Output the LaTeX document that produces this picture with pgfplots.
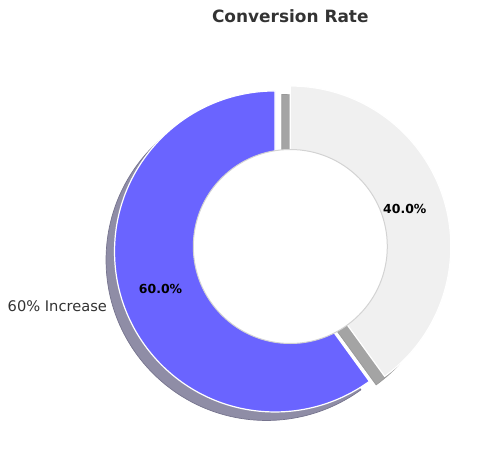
\documentclass[border=0pt]{standalone}
\usepackage{pgfplots}
\pgfplotsset{compat=1.18}
\usepackage{pgfplotstable}
\usepackage{fontspec}
\setmainfont{DejaVu Sans}

\definecolor{sliceA}{HTML}{6A64FF}
\definecolor{sliceB}{HTML}{F0F0F0}
\definecolor{shadowA}{HTML}{8F8DA6}
\definecolor{shadowAedge}{HTML}{76748E}
\definecolor{shadowB}{HTML}{A4A4A4}
\definecolor{shadowBedge}{HTML}{999999}
\definecolor{holeedge}{HTML}{D3D3D3}
\definecolor{textgray}{HTML}{333333}

\pgfplotstableread{
share
60
40
}\slices

\begin{document}
\begin{tikzpicture}
\pgfplotstablegetelem{0}{share}\of\slices \let\shareA\pgfplotsretval
\pgfplotstablegetelem{1}{share}\of\slices \let\shareB\pgfplotsretval
% pie geometry (1 axis unit = 1bp)
\def\cx{290.3}\def\cy{209.5}\def\R{160.5}\def\hole{97}
\def\sx{-8.5}\def\sy{-8.5}
\pgfmathsetmacro\total{\shareA+\shareB}
\pgfmathsetmacro\fracA{\shareA/\total}
\pgfmathsetmacro\fracB{\shareB/\total}
\pgfmathsetmacro\angA{360*\fracA}
\pgfmathsetmacro\endA{90+\angA}
\pgfmathsetmacro\midA{90+\angA/2}
\pgfmathsetmacro\midB{\endA+(360-\angA)/2}
\pgfmathsetmacro\pctA{100*\fracA}
\pgfmathsetmacro\pctB{100*\fracB}
% first slice exploded by 0.1
\pgfmathsetmacro\ax{\cx+0.1*\R*cos(\midA)}
\pgfmathsetmacro\ay{\cy+0.1*\R*sin(\midA)}
\pgfmathsetmacro\lax{\ax+0.75*\R*cos(\midA)}
\pgfmathsetmacro\lay{\ay+0.75*\R*sin(\midA)}
\pgfmathsetmacro\tax{\ax+1.1*\R*cos(\midA)}
\pgfmathsetmacro\tay{\ay+1.1*\R*sin(\midA)}
\pgfmathsetmacro\lbx{\cx+0.75*\R*cos(\midB)}
\pgfmathsetmacro\lby{\cy+0.75*\R*sin(\midB)}
\begin{axis}[
    width=500bp, height=456bp, scale only axis,
    xmin=0, xmax=500, ymin=0, ymax=456,
    hide axis, clip=false,
]
% keep the full canvas as bounding box
\path (rel axis cs:0,0) rectangle (rel axis cs:1,1);
% shadows
\filldraw[fill=shadowA, draw=shadowAedge, line width=0.7bp]
    (axis cs:\ax+\sx,\ay+\sy) -- +(90:\R bp)
    arc[start angle=90, end angle=\endA, radius=\R bp] -- cycle;
\filldraw[fill=shadowB, draw=shadowBedge, line width=0.7bp]
    (axis cs:\cx+\sx,\cy+\sy) -- +(\endA:\R bp)
    arc[start angle=\endA, end angle=450, radius=\R bp] -- cycle;
% wedges
\filldraw[fill=sliceA, draw=white, line width=1.2bp, line join=round]
    (axis cs:\ax,\ay) -- +(90:\R bp)
    arc[start angle=90, end angle=\endA, radius=\R bp] -- cycle;
\filldraw[fill=sliceB, draw=white, line width=1.2bp, line join=round]
    (axis cs:\cx,\cy) -- +(\endA:\R bp)
    arc[start angle=\endA, end angle=450, radius=\R bp] -- cycle;
% hole
\filldraw[fill=white, draw=holeedge, line width=1bp]
    (axis cs:\cx,\cy) circle[radius=\hole bp];
% labels
\node[font=\bfseries\fontsize{12.5}{14}\selectfont, text=black] at (axis cs:\lax,\lay)
    {\pgfmathprintnumber[assume math mode=true,fixed,fixed zerofill,precision=1]{\pctA}\%};
\node[font=\bfseries\fontsize{12.5}{14}\selectfont, text=black] at (axis cs:\lbx,\lby)
    {\pgfmathprintnumber[assume math mode=true,fixed,fixed zerofill,precision=1]{\pctB}\%};
\node[anchor=east, inner sep=0pt, font=\fontsize{14.7}{16}\selectfont, text=textgray]
    at (axis cs:\tax,\tay) {60\% Increase};
\node[anchor=base, inner sep=0pt, font=\bfseries\fontsize{17}{20}\selectfont, text=textgray]
    at (axis cs:290.3,433) {Conversion Rate};
\end{axis}
\end{tikzpicture}
\end{document}
